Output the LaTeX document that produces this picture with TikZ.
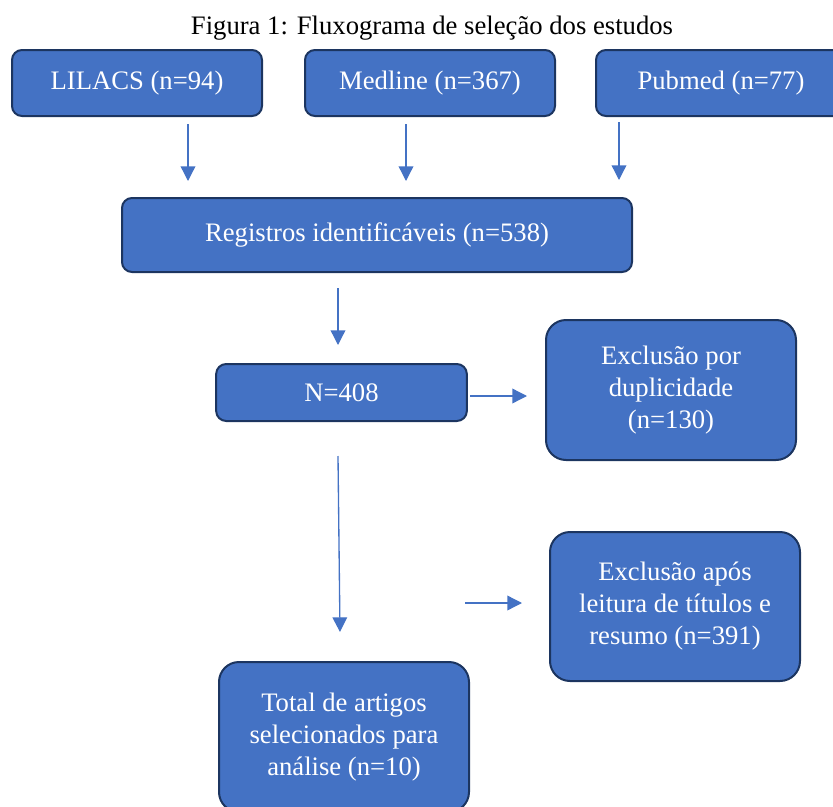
\documentclass[tikz,border=0pt]{standalone}
\usepackage{fontspec}
\setmainfont{Liberation Serif}
\usetikzlibrary{arrows.meta}

\definecolor{boxfill}{HTML}{4472C4}
\definecolor{boxline}{HTML}{1C3560}

\begin{document}
\begin{tikzpicture}[
        x=0.75pt, y=-0.75pt,
        every node/.style={
            font=\fontsize{20}{24}\selectfont
        },
        box/.style={
            draw=boxline, line width=1.5pt, fill=boxfill, text=white,
            rounded corners=7.5pt, align=center, inner sep=0pt,
            minimum width=187.5pt
        },
        bigbox/.style={
            box, rounded corners=15pt
        },
        seta/.style={
            draw=boxfill, line width=1pt,
            -{Triangle[width=11pt,length=11pt]}
        }
    ]
        \clip (0,0) rectangle (833,807);

        % Title
        \node (titulo) at (432,28) {Figura 1: Fluxograma de seleção dos estudos};

        % Databases
        \node[box, minimum height=49.5pt] (lilacs) at (137,83) {LILACS (n=94)};
        \node[box, minimum height=49.5pt] (medline) at (430,83) {Medline (n=367)};
        \node[box, minimum height=49.5pt] (pubmed) at (721,83) {Pubmed (n=77)};

        % Records
        \node[box, minimum width=382.5pt, minimum height=55.5pt] (registros) at (377,235)
            {Registros identificáveis (n=538)};
        \node[box, minimum width=188pt, minimum height=42.75pt] (n408) at (341.5,392.5) {N=408};

        % Exclusions
        \node[bigbox, minimum height=105pt] (duplic) at (671,390)
            {Exclusão por\\duplicidade\\(n=130)};
        \node[bigbox, minimum height=111.75pt] (leitura) at (675,606.5)
            {Exclusão após\\leitura de títulos e\\resumo (n=391)};

        % Result
        \node[bigbox, minimum height=112.5pt] (total) at (344,737)
            {Total de artigos\\selecionados para\\análise (n=10)};

        % Arrow ends
        \coordinate (s1) at (188,124);  \coordinate (e1) at (188,181);
        \coordinate (s2) at (406,124);  \coordinate (e2) at (406,181);
        \coordinate (s3) at (619,122);  \coordinate (e3) at (619,180);
        \coordinate (s4) at (338,288);  \coordinate (e4) at (338,345);
        \coordinate (s5) at (470,396);  \coordinate (e5) at (527,396);
        \coordinate (s6) at (338,456);  \coordinate (e6) at (340,632);
        \coordinate (s7) at (465,603);  \coordinate (e7) at (522,603);

        \draw[seta] (s1) -- (e1);
        \draw[seta] (s2) -- (e2);
        \draw[seta] (s3) -- (e3);
        \draw[seta] (s4) -- (e4);
        \draw[seta] (s5) -- (e5);
        \draw[seta] (s6) -- (e6);
        \draw[seta] (s7) -- (e7);

    \end{tikzpicture}
\end{document}
